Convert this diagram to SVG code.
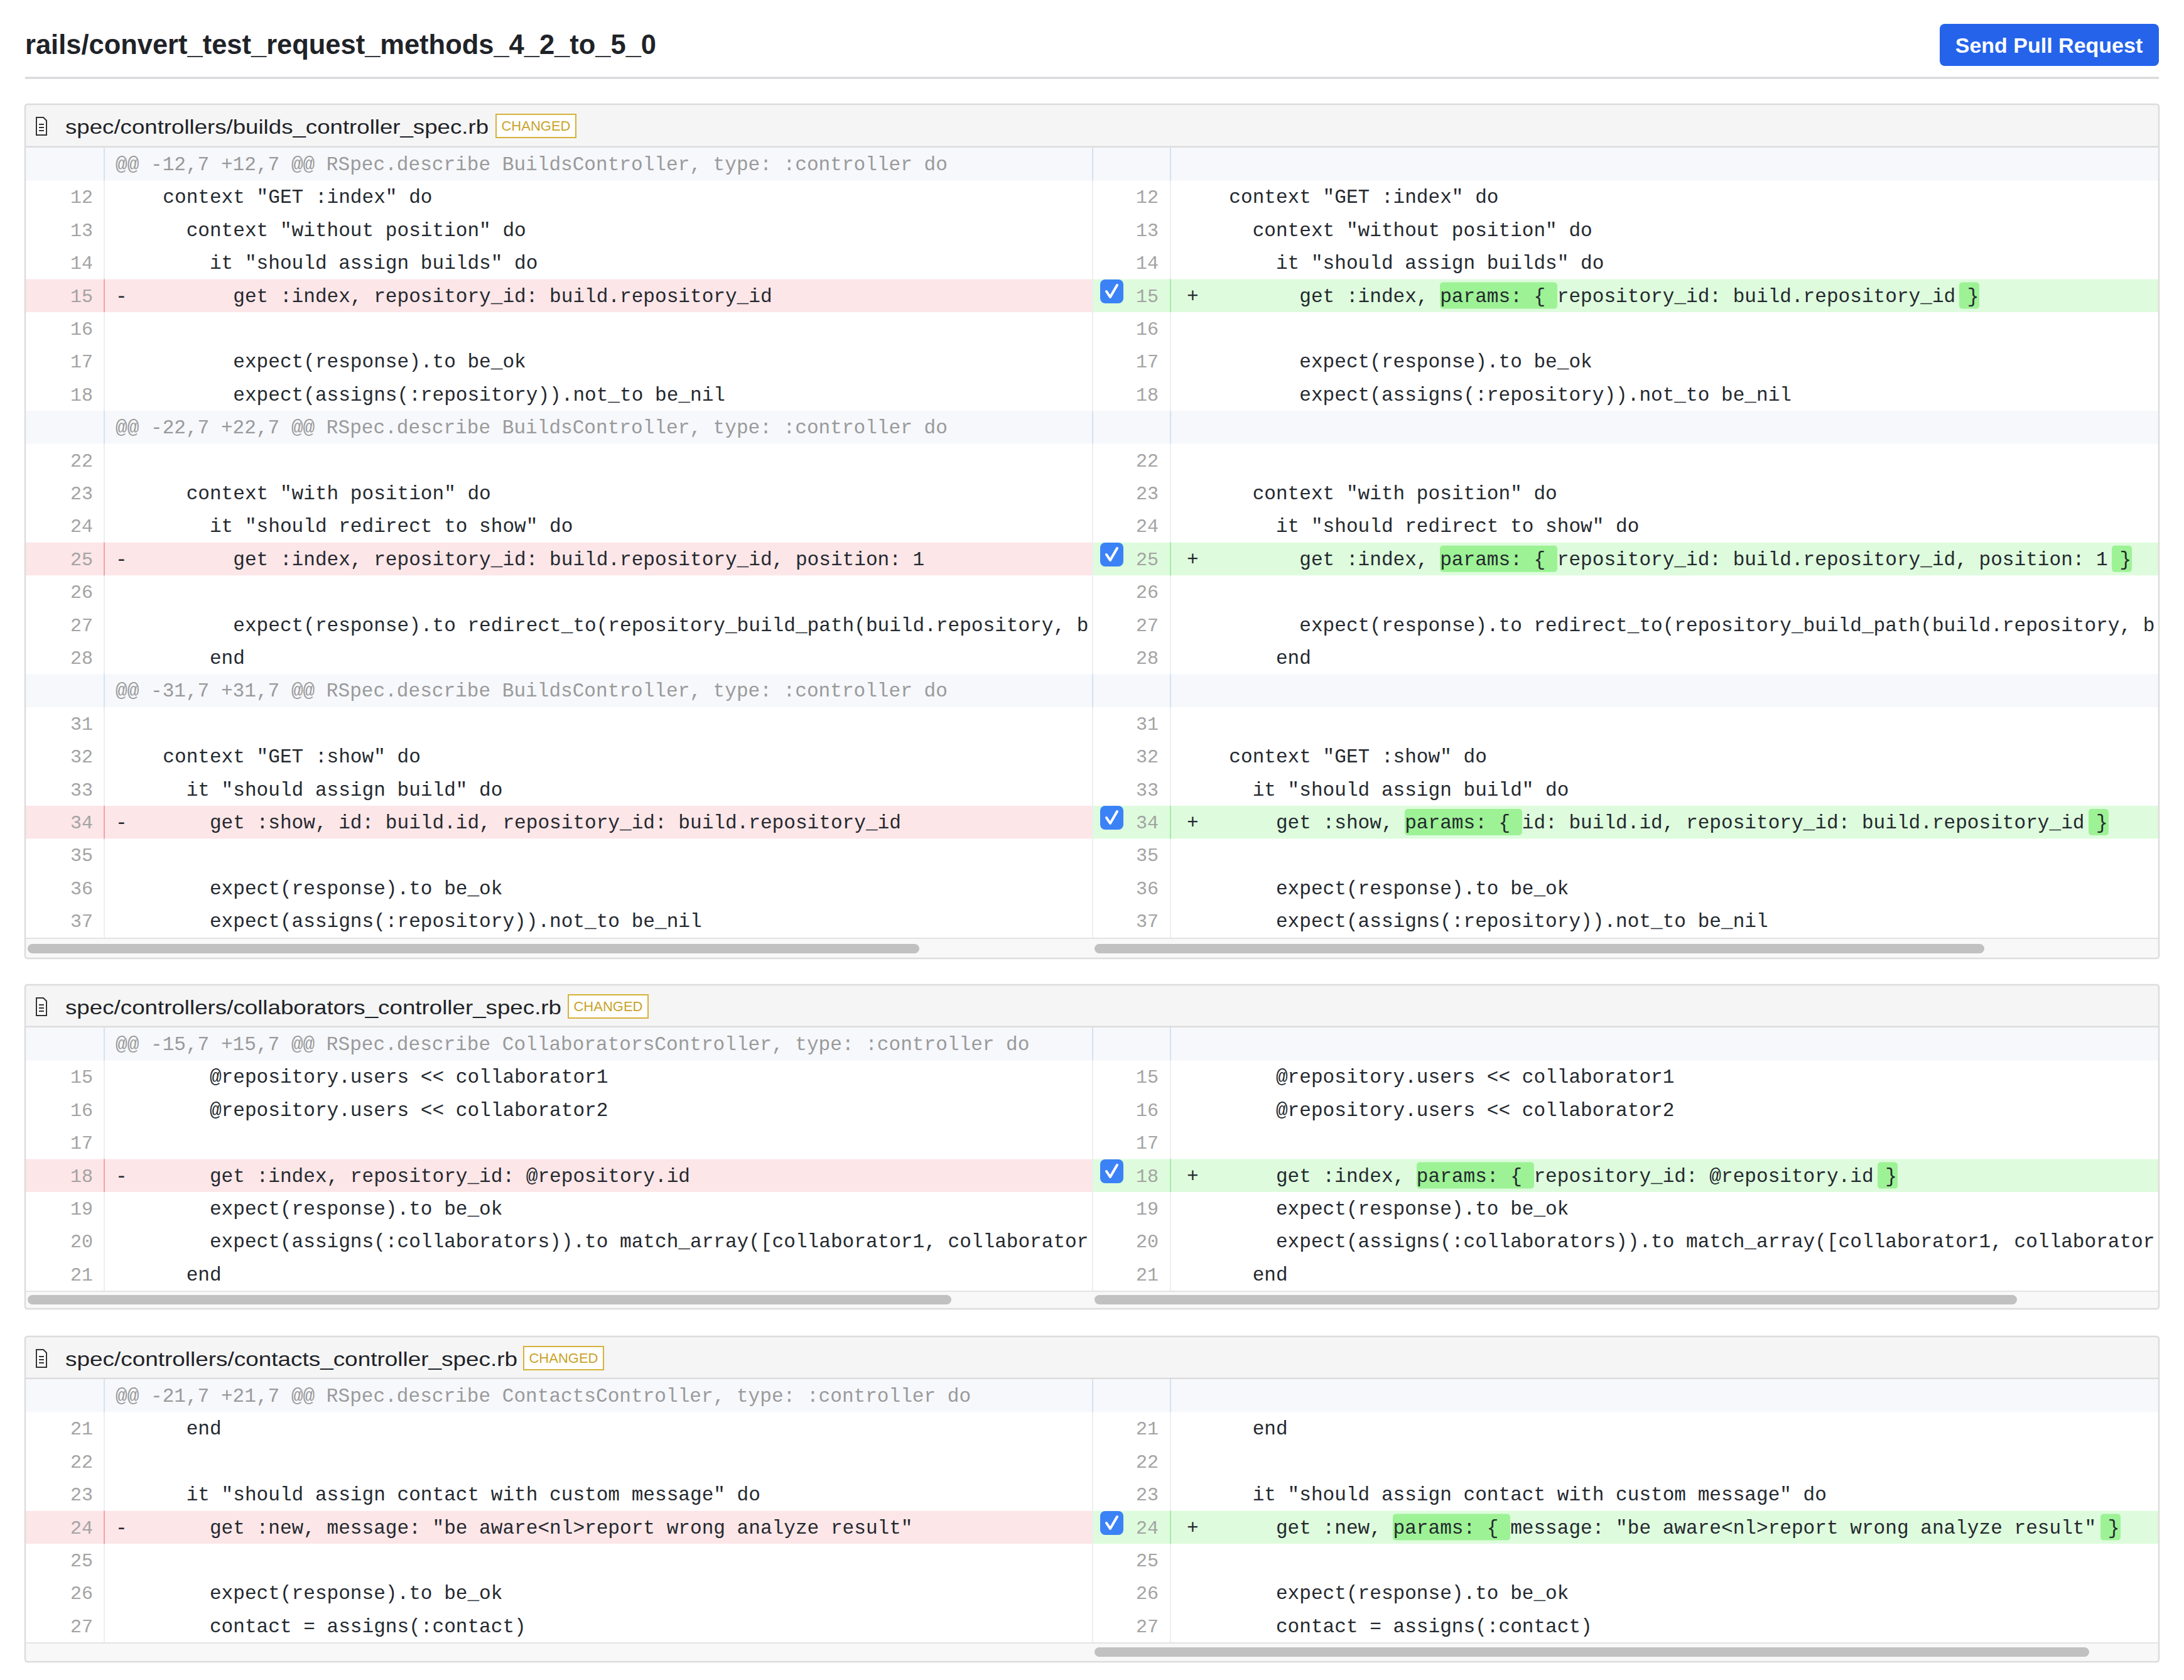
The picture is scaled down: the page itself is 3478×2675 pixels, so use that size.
<svg xmlns="http://www.w3.org/2000/svg" width="3478" height="2675" viewBox="0 0 3478 2675">
<style>
text{white-space:pre}
.c{font-family:"Liberation Mono","DejaVu Sans Mono",monospace;font-size:31.1px;fill:#24292f}
.n{font-family:"Liberation Mono","DejaVu Sans Mono",monospace;font-size:30px;fill:#a3a3a3;text-anchor:end}
.h{font-family:"Liberation Mono","DejaVu Sans Mono",monospace;font-size:31.1px;fill:#9a9a9a}
.fn{font-family:"Liberation Sans",Arial,sans-serif;font-size:32px;fill:#1f2328}
.bd{font-family:"Liberation Sans",Arial,sans-serif;font-size:22px;fill:#c9a32a}
.del{fill:#fde6e8}
.add{fill:#defcdd}
.hl{fill:#9df295}
.hunk{fill:#f6f8fc}
.thumb{fill:#c1c1c1}
.sep{stroke:#eceef1;stroke-width:2}
</style>
<defs>
<clipPath id="cl"><rect x="166" y="0" width="1573" height="2675"/></clipPath>
<clipPath id="cr"><rect x="1864" y="0" width="1573" height="2675"/></clipPath>
<g id="cb"><rect x="0" y="-19" width="37" height="38" rx="8" fill="#3b82f6"/><path d="M10 0 L16 9 L27 -10" fill="none" stroke="#fff" stroke-width="4" stroke-linecap="round" stroke-linejoin="round"/></g>
<g id="doc"><path d="M0 -14 H11 L16 -9 V14 H0 Z" fill="#fff" stroke="#333" stroke-width="2"/><path d="M4 -3 H12 M4 2 H12 M4 7 H12" stroke="#333" stroke-width="2"/></g>
</defs>
<rect width="3478" height="2675" fill="#fff"/>
<g id="title">
<text x="40" y="86" font-family="'Liberation Sans',Arial,sans-serif" font-weight="bold" font-size="44" fill="#1f2328" textLength="1005" lengthAdjust="spacingAndGlyphs">rails/convert_test_request_methods_4_2_to_5_0</text>
<line x1="40" y1="124" x2="3438" y2="124" stroke="#d6d6da" stroke-width="3"/>
</g>
<g id="send-pull-request">
<rect x="3089" y="38" width="349" height="67" rx="8" fill="#2563eb"/>
<text x="3263" y="84" text-anchor="middle" font-family="'Liberation Sans',Arial,sans-serif" font-weight="bold" font-size="34" fill="#fff">Send Pull Request</text>
</g>

<g id="file-builds">
<rect x="40" y="166" width="3398" height="1360" fill="#fff"/>
<rect x="40" y="166" width="3398" height="69" fill="#f5f5f5"/>
<line x1="40" y1="234" x2="3438" y2="234" stroke="#dcdcdc" stroke-width="3"/>
<use href="#doc" x="58" y="201"/>
<text class="fn" x="104" y="213" textLength="674" lengthAdjust="spacingAndGlyphs">spec/controllers/builds_controller_spec.rb</text>
<rect x="790" y="182" width="127" height="37" fill="#fff" stroke="#d4b23a" stroke-width="2"/>
<text class="bd" x="853.5" y="208" text-anchor="middle">CHANGED</text>
<rect class="hunk" x="40" y="235" width="3398" height="52.4"/>
<rect class="hunk" x="40" y="654.2" width="3398" height="52.4"/>
<rect class="hunk" x="40" y="1073.4" width="3398" height="52.4"/>
<rect class="del" x="40" y="444.6" width="1700" height="52.4"/>
<rect class="add" x="1740" y="444.6" width="1698" height="52.4"/>
<rect class="del" x="40" y="863.8" width="1700" height="52.4"/>
<rect class="add" x="1740" y="863.8" width="1698" height="52.4"/>
<rect class="del" x="40" y="1283" width="1700" height="52.4"/>
<rect class="add" x="1740" y="1283" width="1698" height="52.4"/>
<line class="sep" x1="166" y1="235" x2="166" y2="1493"/>
<line class="sep" x1="1740" y1="235" x2="1740" y2="1493"/>
<line class="sep" x1="1864" y1="235" x2="1864" y2="1493"/>
<path d="M166 235v52.4M1740 235v52.4M1864 235v52.4M166 654.2v52.4M1740 654.2v52.4M1864 654.2v52.4M166 1073.4v52.4M1740 1073.4v52.4M1864 1073.4v52.4" stroke="#d3e2f1" stroke-width="2"/>
<path d="M166 444.6v52.4M166 863.8v52.4M166 1283v52.4" stroke="#f0a0a8" stroke-width="2"/>
<path d="M1864 444.6v52.4M1864 863.8v52.4M1864 1283v52.4" stroke="#a8e6a8" stroke-width="2"/>
<rect class="hl" x="2293" y="449.6" width="187" height="42" rx="5"/>
<rect class="hl" x="3120" y="449.6" width="32" height="42" rx="5"/>
<rect class="hl" x="2293" y="868.8" width="187" height="42" rx="5"/>
<rect class="hl" x="3363" y="868.8" width="32" height="42" rx="5"/>
<rect class="hl" x="2237" y="1288" width="187" height="42" rx="5"/>
<rect class="hl" x="3326" y="1288" width="32" height="42" rx="5"/>
<g class="n">
<text x="148" y="323.4">12</text><text x="148" y="375.8">13</text><text x="148" y="428.2">14</text><text x="148" y="480.6">15</text><text x="148" y="533">16</text><text x="148" y="585.4">17</text><text x="148" y="637.8">18</text>
<text x="148" y="742.6">22</text><text x="148" y="795">23</text><text x="148" y="847.4">24</text><text x="148" y="899.8">25</text><text x="148" y="952.2">26</text><text x="148" y="1004.6">27</text><text x="148" y="1057">28</text>
<text x="148" y="1161.8">31</text><text x="148" y="1214.2">32</text><text x="148" y="1266.6">33</text><text x="148" y="1319">34</text><text x="148" y="1371.4">35</text><text x="148" y="1423.8">36</text><text x="148" y="1476.2">37</text>
<text x="1845" y="323.4">12</text><text x="1845" y="375.8">13</text><text x="1845" y="428.2">14</text><text x="1845" y="480.6">15</text><text x="1845" y="533">16</text><text x="1845" y="585.4">17</text><text x="1845" y="637.8">18</text>
<text x="1845" y="742.6">22</text><text x="1845" y="795">23</text><text x="1845" y="847.4">24</text><text x="1845" y="899.8">25</text><text x="1845" y="952.2">26</text><text x="1845" y="1004.6">27</text><text x="1845" y="1057">28</text>
<text x="1845" y="1161.8">31</text><text x="1845" y="1214.2">32</text><text x="1845" y="1266.6">33</text><text x="1845" y="1319">34</text><text x="1845" y="1371.4">35</text><text x="1845" y="1423.8">36</text><text x="1845" y="1476.2">37</text>
</g>
<g clip-path="url(#cl)">
<text class="h" x="184" y="271">@@ -12,7 +12,7 @@ RSpec.describe BuildsController, type: :controller do</text>
<text class="h" x="184" y="690.2">@@ -22,7 +22,7 @@ RSpec.describe BuildsController, type: :controller do</text>
<text class="h" x="184" y="1109.4">@@ -31,7 +31,7 @@ RSpec.describe BuildsController, type: :controller do</text>
<text class="c" x="184" y="480.6">-</text><text class="c" x="184" y="899.8">-</text><text class="c" x="184" y="1319">-</text>
<text class="c" x="222" y="323.4">  context "GET :index" do</text>
<text class="c" x="222" y="375.8">    context "without position" do</text>
<text class="c" x="222" y="428.2">      it "should assign builds" do</text>
<text class="c" x="222" y="480.6">        get :index, repository_id: build.repository_id</text>
<text class="c" x="222" y="585.4">        expect(response).to be_ok</text>
<text class="c" x="222" y="637.8">        expect(assigns(:repository)).not_to be_nil</text>
<text class="c" x="222" y="795">    context "with position" do</text>
<text class="c" x="222" y="847.4">      it "should redirect to show" do</text>
<text class="c" x="222" y="899.8">        get :index, repository_id: build.repository_id, position: 1</text>
<text class="c" x="222" y="1004.6">        expect(response).to redirect_to(repository_build_path(build.repository, b</text>
<text class="c" x="222" y="1057">      end</text>
<text class="c" x="222" y="1214.2">  context "GET :show" do</text>
<text class="c" x="222" y="1266.6">    it "should assign build" do</text>
<text class="c" x="222" y="1319">      get :show, id: build.id, repository_id: build.repository_id</text>
<text class="c" x="222" y="1423.8">      expect(response).to be_ok</text>
<text class="c" x="222" y="1476.2">      expect(assigns(:repository)).not_to be_nil</text>
</g>
<g clip-path="url(#cr)">
<text class="c" x="1890" y="480.6">+</text><text class="c" x="1890" y="899.8">+</text><text class="c" x="1890" y="1319">+</text>
<text class="c" x="1920" y="323.4">  context "GET :index" do</text>
<text class="c" x="1920" y="375.8">    context "without position" do</text>
<text class="c" x="1920" y="428.2">      it "should assign builds" do</text>
<text class="c" x="1920" y="480.6">        get :index, params: { repository_id: build.repository_id }</text>
<text class="c" x="1920" y="585.4">        expect(response).to be_ok</text>
<text class="c" x="1920" y="637.8">        expect(assigns(:repository)).not_to be_nil</text>
<text class="c" x="1920" y="795">    context "with position" do</text>
<text class="c" x="1920" y="847.4">      it "should redirect to show" do</text>
<text class="c" x="1920" y="899.8">        get :index, params: { repository_id: build.repository_id, position: 1 }</text>
<text class="c" x="1920" y="1004.6">        expect(response).to redirect_to(repository_build_path(build.repository, b</text>
<text class="c" x="1920" y="1057">      end</text>
<text class="c" x="1920" y="1214.2">  context "GET :show" do</text>
<text class="c" x="1920" y="1266.6">    it "should assign build" do</text>
<text class="c" x="1920" y="1319">      get :show, params: { id: build.id, repository_id: build.repository_id }</text>
<text class="c" x="1920" y="1423.8">      expect(response).to be_ok</text>
<text class="c" x="1920" y="1476.2">      expect(assigns(:repository)).not_to be_nil</text>
</g>
<use href="#cb" x="1752" y="464"/><use href="#cb" x="1752" y="883"/><use href="#cb" x="1752" y="1302"/>
<rect x="40" y="1493" width="3398" height="33" fill="#f8f8f8"/>
<line x1="40" y1="1494" x2="3438" y2="1494" stroke="#e3e3e3" stroke-width="2"/>
<rect class="thumb" x="44" y="1503" width="1420" height="15" rx="7.5"/>
<rect class="thumb" x="1743" y="1503" width="1417" height="15" rx="7.5"/>
<rect x="40" y="166" width="3398" height="1360" rx="4" fill="none" stroke="#dcdcdc" stroke-width="2.5"/>
</g>

<g id="file-collaborators">
<rect x="40" y="1568" width="3398" height="516" fill="#fff"/>
<rect x="40" y="1568" width="3398" height="67" fill="#f5f5f5"/>
<line x1="40" y1="1635" x2="3438" y2="1635" stroke="#dcdcdc" stroke-width="3"/>
<use href="#doc" x="58" y="1603"/>
<text class="fn" x="104" y="1615" textLength="790" lengthAdjust="spacingAndGlyphs">spec/controllers/collaborators_controller_spec.rb</text>
<rect x="905" y="1584" width="127" height="37" fill="#fff" stroke="#d4b23a" stroke-width="2"/>
<text class="bd" x="968.5" y="1610" text-anchor="middle">CHANGED</text>
<rect class="hunk" x="40" y="1636" width="3398" height="52.4"/>
<rect class="del" x="40" y="1845.6" width="1700" height="52.4"/>
<rect class="add" x="1740" y="1845.6" width="1698" height="52.4"/>
<line class="sep" x1="166" y1="1636" x2="166" y2="2055"/>
<line class="sep" x1="1740" y1="1636" x2="1740" y2="2055"/>
<line class="sep" x1="1864" y1="1636" x2="1864" y2="2055"/>
<path d="M166 1636v52.4M1740 1636v52.4M1864 1636v52.4" stroke="#d3e2f1" stroke-width="2"/>
<path d="M166 1845.6v52.4" stroke="#f0a0a8" stroke-width="2"/>
<path d="M1864 1845.6v52.4" stroke="#a8e6a8" stroke-width="2"/>
<rect class="hl" x="2256" y="1850.6" width="187" height="42" rx="5"/>
<rect class="hl" x="2990" y="1850.6" width="32" height="42" rx="5"/>
<g class="n">
<text x="148" y="1724.4">15</text><text x="148" y="1776.8">16</text><text x="148" y="1829.2">17</text><text x="148" y="1881.6">18</text><text x="148" y="1934">19</text><text x="148" y="1986.4">20</text><text x="148" y="2038.8">21</text>
<text x="1845" y="1724.4">15</text><text x="1845" y="1776.8">16</text><text x="1845" y="1829.2">17</text><text x="1845" y="1881.6">18</text><text x="1845" y="1934">19</text><text x="1845" y="1986.4">20</text><text x="1845" y="2038.8">21</text>
</g>
<g clip-path="url(#cl)">
<text class="h" x="184" y="1672">@@ -15,7 +15,7 @@ RSpec.describe CollaboratorsController, type: :controller do</text>
<text class="c" x="184" y="1881.6">-</text>
<text class="c" x="222" y="1724.4">      @repository.users &lt;&lt; collaborator1</text>
<text class="c" x="222" y="1776.8">      @repository.users &lt;&lt; collaborator2</text>
<text class="c" x="222" y="1881.6">      get :index, repository_id: @repository.id</text>
<text class="c" x="222" y="1934">      expect(response).to be_ok</text>
<text class="c" x="222" y="1986.4">      expect(assigns(:collaborators)).to match_array([collaborator1, collaborator</text>
<text class="c" x="222" y="2038.8">    end</text>
</g>
<g clip-path="url(#cr)">
<text class="c" x="1890" y="1881.6">+</text>
<text class="c" x="1920" y="1724.4">      @repository.users &lt;&lt; collaborator1</text>
<text class="c" x="1920" y="1776.8">      @repository.users &lt;&lt; collaborator2</text>
<text class="c" x="1920" y="1881.6">      get :index, params: { repository_id: @repository.id }</text>
<text class="c" x="1920" y="1934">      expect(response).to be_ok</text>
<text class="c" x="1920" y="1986.4">      expect(assigns(:collaborators)).to match_array([collaborator1, collaborator</text>
<text class="c" x="1920" y="2038.8">    end</text>
</g>
<use href="#cb" x="1752" y="1865"/>
<rect x="40" y="2055" width="3398" height="29" fill="#f8f8f8"/>
<line x1="40" y1="2056" x2="3438" y2="2056" stroke="#e3e3e3" stroke-width="2"/>
<rect class="thumb" x="44" y="2062" width="1471" height="15" rx="7.5"/>
<rect class="thumb" x="1743" y="2062" width="1469" height="15" rx="7.5"/>
<rect x="40" y="1568" width="3398" height="516" rx="4" fill="none" stroke="#dcdcdc" stroke-width="2.5"/>
</g>

<g id="file-contacts">
<rect x="40" y="2128" width="3398" height="518" fill="#fff"/>
<rect x="40" y="2128" width="3398" height="67" fill="#f5f5f5"/>
<line x1="40" y1="2195" x2="3438" y2="2195" stroke="#dcdcdc" stroke-width="3"/>
<use href="#doc" x="58" y="2163"/>
<text class="fn" x="104" y="2175" textLength="720" lengthAdjust="spacingAndGlyphs">spec/controllers/contacts_controller_spec.rb</text>
<rect x="834" y="2144" width="127" height="37" fill="#fff" stroke="#d4b23a" stroke-width="2"/>
<text class="bd" x="897.5" y="2170" text-anchor="middle">CHANGED</text>
<rect class="hunk" x="40" y="2196" width="3398" height="52.4"/>
<rect class="del" x="40" y="2405.6" width="1700" height="52.4"/>
<rect class="add" x="1740" y="2405.6" width="1698" height="52.4"/>
<line class="sep" x1="166" y1="2196" x2="166" y2="2615"/>
<line class="sep" x1="1740" y1="2196" x2="1740" y2="2615"/>
<line class="sep" x1="1864" y1="2196" x2="1864" y2="2615"/>
<path d="M166 2196v52.4M1740 2196v52.4M1864 2196v52.4" stroke="#d3e2f1" stroke-width="2"/>
<path d="M166 2405.6v52.4" stroke="#f0a0a8" stroke-width="2"/>
<path d="M1864 2405.6v52.4" stroke="#a8e6a8" stroke-width="2"/>
<rect class="hl" x="2218" y="2410.6" width="187" height="42" rx="5"/>
<rect class="hl" x="3345" y="2410.6" width="32" height="42" rx="5"/>
<g class="n">
<text x="148" y="2284.4">21</text><text x="148" y="2336.8">22</text><text x="148" y="2389.2">23</text><text x="148" y="2441.6">24</text><text x="148" y="2494">25</text><text x="148" y="2546.4">26</text><text x="148" y="2598.8">27</text>
<text x="1845" y="2284.4">21</text><text x="1845" y="2336.8">22</text><text x="1845" y="2389.2">23</text><text x="1845" y="2441.6">24</text><text x="1845" y="2494">25</text><text x="1845" y="2546.4">26</text><text x="1845" y="2598.8">27</text>
</g>
<g clip-path="url(#cl)">
<text class="h" x="184" y="2232">@@ -21,7 +21,7 @@ RSpec.describe ContactsController, type: :controller do</text>
<text class="c" x="184" y="2441.6">-</text>
<text class="c" x="222" y="2284.4">    end</text>
<text class="c" x="222" y="2389.2">    it "should assign contact with custom message" do</text>
<text class="c" x="222" y="2441.6">      get :new, message: "be aware&lt;nl&gt;report wrong analyze result"</text>
<text class="c" x="222" y="2546.4">      expect(response).to be_ok</text>
<text class="c" x="222" y="2598.8">      contact = assigns(:contact)</text>
</g>
<g clip-path="url(#cr)">
<text class="c" x="1890" y="2441.6">+</text>
<text class="c" x="1920" y="2284.4">    end</text>
<text class="c" x="1920" y="2389.2">    it "should assign contact with custom message" do</text>
<text class="c" x="1920" y="2441.6">      get :new, params: { message: "be aware&lt;nl&gt;report wrong analyze result" }</text>
<text class="c" x="1920" y="2546.4">      expect(response).to be_ok</text>
<text class="c" x="1920" y="2598.8">      contact = assigns(:contact)</text>
</g>
<use href="#cb" x="1752" y="2425"/>
<rect x="40" y="2615" width="3398" height="31" fill="#f8f8f8"/>
<line x1="40" y1="2616" x2="3438" y2="2616" stroke="#e3e3e3" stroke-width="2"/>
<rect class="thumb" x="1743" y="2623" width="1584" height="15" rx="7.5"/>
<rect x="40" y="2128" width="3398" height="518" rx="4" fill="none" stroke="#dcdcdc" stroke-width="2.5"/>
</g>
<g id="connectors"/>
</svg>
